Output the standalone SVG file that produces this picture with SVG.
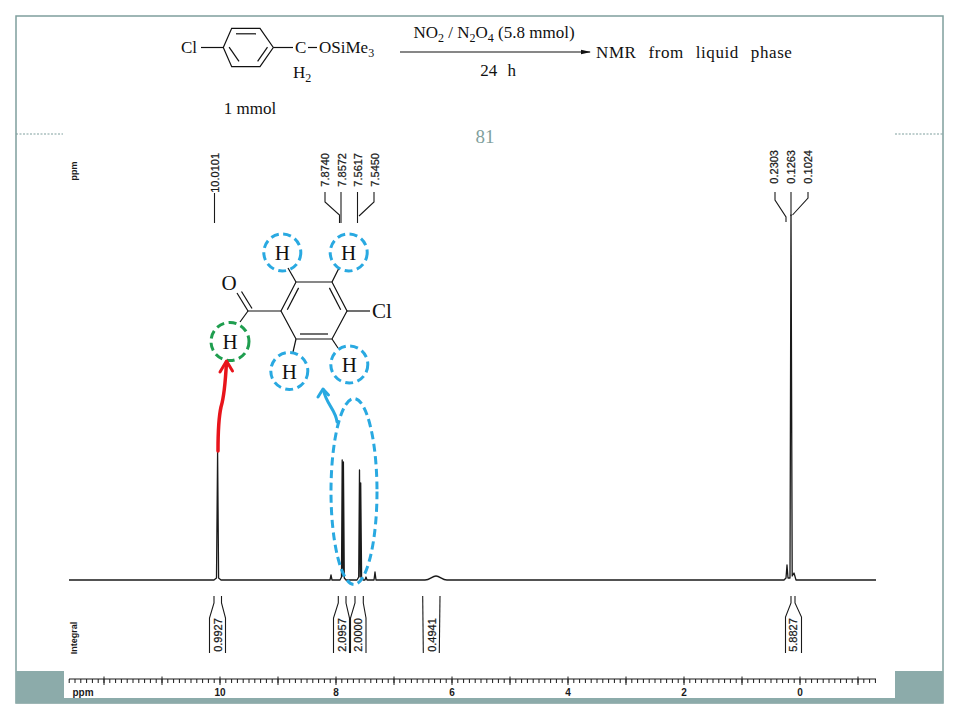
<svg xmlns="http://www.w3.org/2000/svg" width="960" height="720" viewBox="0 0 960 720">
<defs>
<style>
.frame{fill:none;stroke:#7f9f9d;stroke-width:1.5}
.teal{fill:#8cabaa}
.dash{stroke:#7f9f9d;stroke-width:1;stroke-dasharray:2 1.5}
.serif{font-family:"Liberation Serif","Times New Roman",serif;fill:#111}
.sans{font-family:"Liberation Sans",Arial,sans-serif;fill:#1a1a1a}
.bond{stroke:#111;stroke-width:1.2;fill:none}
.spec{stroke:#1a1a1a;stroke-width:1.3;fill:none;stroke-linejoin:round}
.lead{stroke:#1a1a1a;stroke-width:1.1;fill:none}
.blue{stroke:#29a9e1;stroke-width:3;fill:none;stroke-dasharray:8 4.5}
.green{stroke:#1f9e4f;stroke-width:3;fill:none;stroke-dasharray:8 4.5}
.hl{font-family:"Liberation Serif","Times New Roman",serif;font-size:21px;fill:#111;text-anchor:middle}
.pl{font-family:"Liberation Sans",Arial,sans-serif;font-size:11px;fill:#1a1a1a;stroke:#1a1a1a;stroke-width:0.25}
</style>
<marker id="rxnhead" viewBox="0 0 10 6" refX="9" refY="3" markerWidth="10" markerHeight="6" markerUnits="userSpaceOnUse" orient="auto">
<path d="M0,0.8 L10,3 L0,5.2 Z" fill="#111"/>
</marker>
</defs>
<rect width="960" height="720" fill="#ffffff"/>

<g id="frame">
<rect class="frame" x="16" y="16" width="927" height="687"/>
<line class="dash" x1="16" y1="134" x2="63" y2="134"/>
<line class="dash" x1="895" y1="134" x2="943" y2="134"/>
<rect class="teal" x="16" y="671" width="48" height="32"/>
<rect class="teal" x="895" y="671" width="48" height="32"/>
<rect class="teal" x="16" y="698" width="927" height="5"/>
<text x="485" y="143" font-family="Liberation Serif,serif" font-size="19" fill="#7f9f9d" text-anchor="middle">81</text>
</g>

<g id="reactant">
<text class="serif" x="181" y="53" font-size="17">Cl</text>
<line class="bond" x1="201" y1="47.5" x2="223.3" y2="47.5"/>
<polygon class="bond" points="223.3,47.5 231.7,28.3 260,28.3 273.3,47.5 260,66.7 231.7,66.7"/>
<line class="bond" x1="236" y1="33.8" x2="256" y2="33.8"/>
<line class="bond" x1="267.5" y1="47.1" x2="257.6" y2="61.4"/>
<line class="bond" x1="229.1" y1="47.1" x2="239" y2="61.4"/>
<line class="bond" x1="273.3" y1="47.5" x2="293" y2="47.5"/>
<text class="serif" x="295" y="53" font-size="17">C</text>
<line class="bond" x1="308" y1="47.5" x2="317" y2="47.5"/>
<text class="serif" x="319" y="53" font-size="17">OSiMe<tspan font-size="12" dy="4">3</tspan></text>
<text class="serif" x="293" y="78" font-size="17">H<tspan font-size="12" dy="4">2</tspan></text>
<text class="serif" x="250" y="114" font-size="17" text-anchor="middle">1 mmol</text>
</g>

<g id="reaction-arrow">
<line x1="400" y1="52" x2="590" y2="52" stroke="#111" stroke-width="1.2" marker-end="url(#rxnhead)"/>
<text class="serif" x="494" y="38" font-size="17" text-anchor="middle">NO<tspan font-size="12" dy="4">2</tspan><tspan dy="-4"> / N</tspan><tspan font-size="12" dy="4">2</tspan><tspan dy="-4">O</tspan><tspan font-size="12" dy="4">4</tspan><tspan dy="-4"> (5.8 mmol)</tspan></text>
<text class="serif" x="498" y="76" font-size="17" text-anchor="middle" word-spacing="6">24 h</text>
</g>

<g id="product-label">
<text class="serif" x="596" y="58" font-size="17" letter-spacing="0.6" word-spacing="7">NMR from liquid phase</text>
</g>

<g id="spectrum">
<text class="sans" transform="translate(77,171) rotate(-90)" font-size="9" font-weight="bold" text-anchor="middle">ppm</text>
<path class="spec" d="M69 580 H214 L216.5 578 L217.6 452 L218.6 578 L221 580 H330 L331 575 L332 580 H340 L341.5 577 L342.2 460 L342.9 576 L343.4 462 L344.3 578 L346 580 H357 L358.7 577 L359.5 470 L360.2 577 L360.7 483 L361.6 578 L363 580 H365 L366 577 L367 580 H374 L375 572 L376 580 H425 C430 580 432 576 436 576 C440 576 442 580 447 580 H784 L786 578 L787 565 L788 578 L790 578 L791 215 L792.2 576 L794 573 L796 580 H876"/>
</g>

<g id="peak-labels">
<text class="pl" transform="translate(219,153) rotate(-90)" text-anchor="end">10.0101</text>
<line class="lead" x1="214.5" y1="193" x2="214.5" y2="223"/>
<text class="pl" transform="translate(329,153) rotate(-90)" text-anchor="end">7.8740</text>
<text class="pl" transform="translate(345.5,153) rotate(-90)" text-anchor="end">7.8572</text>
<text class="pl" transform="translate(362,153) rotate(-90)" text-anchor="end">7.5617</text>
<text class="pl" transform="translate(378.5,153) rotate(-90)" text-anchor="end">7.5450</text>
<polyline class="lead" points="325,192 325,202 339.5,215 339.5,223"/>
<line class="lead" x1="341" y1="192" x2="341" y2="223"/>
<line class="lead" x1="357.5" y1="192" x2="357.5" y2="223"/>
<polyline class="lead" points="374,192 374,202 359,216"/>
<text class="pl" transform="translate(777.5,150) rotate(-90)" text-anchor="end">0.2303</text>
<text class="pl" transform="translate(795,150) rotate(-90)" text-anchor="end">0.1263</text>
<text class="pl" transform="translate(812,150) rotate(-90)" text-anchor="end">0.1024</text>
<polyline class="lead" points="775,192 775,200 786,217 786,222"/>
<line class="lead" x1="791" y1="192" x2="791" y2="216"/>
<polyline class="lead" points="808,192 808,198 792.5,215"/>
</g>

<g id="integrals">
<text class="sans" transform="translate(77,638) rotate(-90)" font-size="9" font-weight="bold" text-anchor="middle">Integral</text>
<polyline class="lead" points="214,596 214,603 209.5,618 209.5,653"/>
<polyline class="lead" points="221.5,596 221.5,603 225.5,618 225.5,653"/>
<text class="pl" transform="translate(221.7,635) rotate(-90)" text-anchor="middle">0.9927</text>
<polyline class="lead" points="338.3,596 338.3,603 333.5,618 333.5,653"/>
<polyline class="lead" points="346,596 346,603 349.5,618 349.5,653"/>
<text class="pl" transform="translate(345.7,635) rotate(-90)" text-anchor="middle">2.0957</text>
<polyline class="lead" points="355,596 355,603 350.5,618 350.5,653"/>
<polyline class="lead" points="363.3,596 363.3,603 366,618 366,653"/>
<text class="pl" transform="translate(362.3,635) rotate(-90)" text-anchor="middle">2.0000</text>
<line class="lead" x1="422.7" y1="596" x2="423.3" y2="653"/>
<line class="lead" x1="440" y1="596" x2="439.3" y2="653"/>
<text class="pl" transform="translate(435.7,635) rotate(-90)" text-anchor="middle">0.4941</text>
<polyline class="lead" points="791,596 791,603 785.5,617 785.5,653"/>
<polyline class="lead" points="795,596 795,603 801.5,617 801.5,653"/>
<text class="pl" transform="translate(797.3,635) rotate(-90)" text-anchor="middle">5.8827</text>
</g>

<g id="axis">
<line x1="69" y1="679" x2="876" y2="679" stroke="#1a1a1a" stroke-width="1"/>
<line x1="68.7" y1="681" x2="876" y2="681" stroke="#1a1a1a" stroke-width="4" stroke-dasharray="1 4.8"/>
<path d="M104 676.5V685 M162 676.5V685 M220 676.5V685 M278 676.5V685 M336 676.5V685 M394 676.5V685 M452 676.5V685 M510 676.5V685 M568 676.5V685 M626 676.5V685 M684 676.5V685 M742 676.5V685 M800 676.5V685 M858 676.5V685" stroke="#1a1a1a" stroke-width="1"/>
<g class="sans" font-size="10" font-weight="bold" text-anchor="middle">
<text x="83" y="696">ppm</text>
<text x="220" y="696">10</text>
<text x="336" y="696">8</text>
<text x="452" y="696">6</text>
<text x="568" y="696">4</text>
<text x="684" y="696">2</text>
<text x="800" y="696">0</text>
</g>
</g>

<g id="molecule">
<polygon class="bond" points="296,282 332,282 347,311 332,339 296,339 281,311"/>
<line class="bond" x1="329.4" y1="287.9" x2="340.7" y2="309.7"/>
<line class="bond" x1="298.6" y1="287.9" x2="287.3" y2="309.7"/>
<line class="bond" x1="300" y1="334" x2="328" y2="334"/>
<line class="bond" x1="296" y1="282" x2="288" y2="268"/>
<line class="bond" x1="332" y1="282" x2="339" y2="268"/>
<line class="bond" x1="347" y1="311" x2="370" y2="311"/>
<line class="bond" x1="296" y1="339" x2="293" y2="352"/>
<line class="bond" x1="332" y1="339" x2="338" y2="348"/>
<line class="bond" x1="281" y1="311" x2="248" y2="311"/>
<line class="bond" x1="248" y1="311" x2="237" y2="293"/>
<line class="bond" x1="252" y1="308.5" x2="241.5" y2="291.5"/>
<line class="bond" x1="248" y1="311" x2="240" y2="322"/>
<text class="hl" x="229" y="290">O</text>
<text class="serif" x="372" y="318" font-size="21">Cl</text>
</g>

<g id="h-aldehyde">
<circle class="green" cx="230" cy="341.5" r="19"/>
<text class="hl" x="230" y="349">H</text>
</g>
<g id="h-top-left">
<circle class="blue" cx="282.3" cy="252.5" r="18.5"/>
<text class="hl" x="282.3" y="260">H</text>
</g>
<g id="h-top-right">
<circle class="blue" cx="348.7" cy="252.5" r="18.5"/>
<text class="hl" x="348.7" y="260">H</text>
</g>
<g id="h-bottom-left">
<circle class="blue" cx="289.3" cy="371" r="18.5"/>
<text class="hl" x="289.3" y="378.5">H</text>
</g>
<g id="h-bottom-right">
<circle class="blue" cx="349.3" cy="364.5" r="18.5"/>
<text class="hl" x="349.3" y="372">H</text>
</g>

<g id="aromatic-peaks-ellipse">
<ellipse class="blue" cx="354" cy="491.5" rx="23" ry="93"/>
</g>

<g id="connectors">
<path d="M218 451 C218 432 219 416 221 407 C223.5 399 225 390 226.5 362" fill="none" stroke="#e8141b" stroke-width="3.5" stroke-linecap="round"/>
<path d="M220 372 L226.5 361 L232.5 371" fill="none" stroke="#e8141b" stroke-width="3" stroke-linecap="round" stroke-linejoin="round"/>
<path d="M337 422 C336 410 326 404 323.5 390" fill="none" stroke="#29a9e1" stroke-width="3" stroke-linecap="round"/>
<path d="M318 397 L323 389 L328.5 395" fill="none" stroke="#29a9e1" stroke-width="3" stroke-linecap="round" stroke-linejoin="round"/>
</g>
</svg>
